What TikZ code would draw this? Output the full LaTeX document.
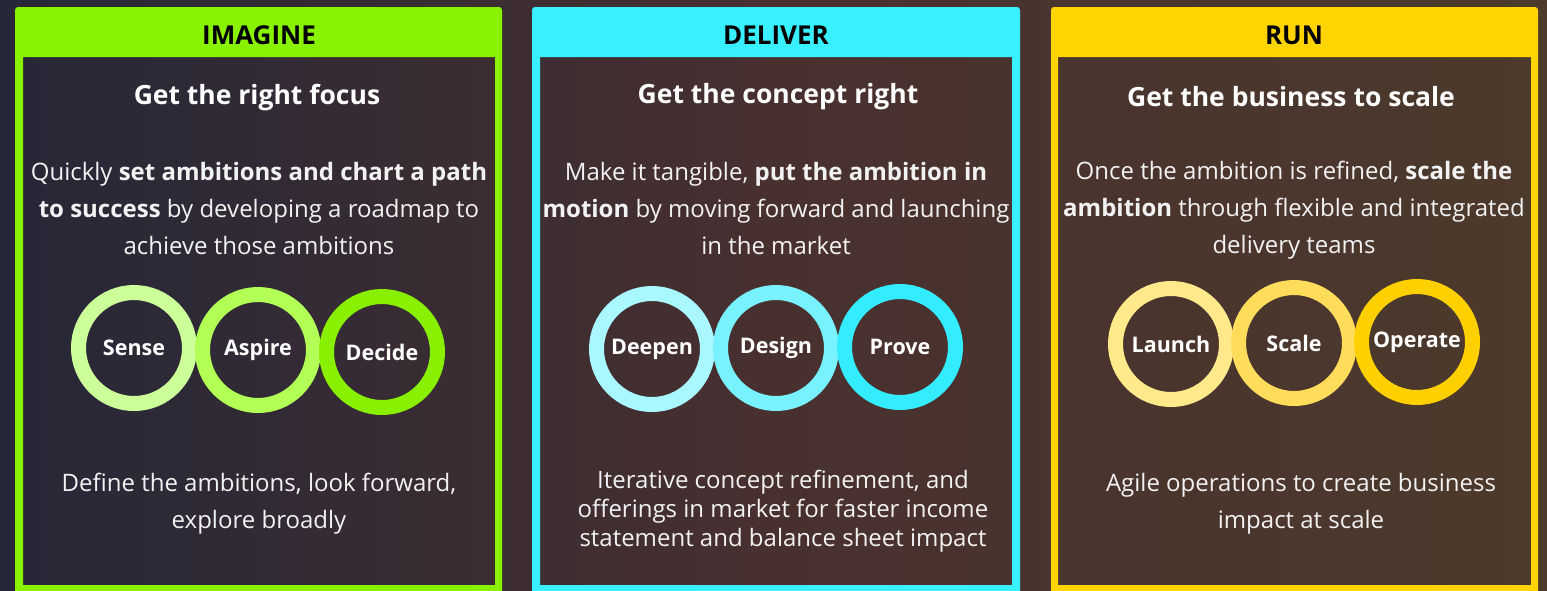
\documentclass[tikz,border=0pt]{standalone}
\usepackage{fontspec}
\setmainfont{Open Sans}
\usepackage{xcolor}

\definecolor{bgleft}{HTML}{262738}
\definecolor{bgmid}{HTML}{48302F}
\definecolor{bgright}{HTML}{4C3A2C}
\definecolor{imagine}{HTML}{88F200}
\definecolor{deliver}{HTML}{38F0FF}
\definecolor{runclr}{HTML}{FFD400}
\definecolor{sensec}{HTML}{CCFF99}
\definecolor{aspirec}{HTML}{B2FF55}
\definecolor{decidec}{HTML}{88F000}
\definecolor{deepenc}{HTML}{AAF8FF}
\definecolor{designc}{HTML}{78F2FF}
\definecolor{provec}{HTML}{34ECFF}
\definecolor{launchc}{HTML}{FFE98A}
\definecolor{scalec}{HTML}{FFDD5A}
\definecolor{operatec}{HTML}{FFD000}
\definecolor{txt}{HTML}{F2F2F2}

\tikzset{
  phase/.style={font=\fontsize{26}{26}\selectfont\bfseries, text=black},
  aim/.style={font=\fontsize{26.5}{26.5}\selectfont\bfseries, text=white},
  blurb/.style={font=\fontsize{24}{37}\selectfont, text=txt, align=center},
  ring/.style={circle, draw=#1, line width=15pt, minimum size=111pt,
    inner sep=0pt, font=\fontsize{21.5}{21.5}\selectfont\bfseries, text=white},
  frame/.style={fill=#1, even odd rule}
}

\begin{document}
\begin{tikzpicture}[x=1pt,y=-1pt]
        % Background
        \useasboundingbox (0,0) rectangle (1547,590);
        \shade[left color=bgleft, right color=bgright, middle color=bgmid] (0,0) rectangle (1547,590);

        % IMAGINE panel
        \fill[frame=imagine] [rounded corners=3pt] (15,7) rectangle (502,600) [sharp corners] (23,57) rectangle (495,585);
        \node[phase] (imagine) at (259,35) {IMAGINE};
        \node[aim] (focus) at (257,98) {Get the right focus};
        \node[blurb] (focustxt) at (259,208) {Quickly \textbf{set ambitions and chart a path}\\
          \textbf{to success} by developing a roadmap to\\ achieve those ambitions};
        \node[ring=sensec] (sense) at (134,348) {Sense};
        \node[ring=aspirec] (aspire) at (258,350) {Aspire};
        \node[ring=decidec] (decide) at (382,352) {Decide};
        \node[blurb] (focusend) at (259,504) {Define the ambitions, look forward,\\ explore broadly};

        % DELIVER panel
        \fill[frame=deliver] [rounded corners=3pt] (532,7) rectangle (1020,600) [sharp corners] (540,57) rectangle (1012,585);
        \node[phase] (deliver) at (776,35) {DELIVER};
        \node[aim] (concept) at (778,97) {Get the concept right};
        \node[blurb] (concepttxt) at (776,208) {Make it tangible, \textbf{put the ambition in}\\
          \textbf{motion} by moving forward and launching\\ in the market};
        \node[ring=deepenc] (deepen) at (652,349) {Deepen};
        \node[ring=designc] (design) at (776,348) {Design};
        \node[ring=provec] (prove) at (900,347) {Prove};
        \node[blurb, font=\fontsize{24}{29}\selectfont] (conceptend) at (783,511) {Iterative concept refinement, and\\
          offerings in market for faster income\\ statement and balance sheet impact};

        % RUN panel
        \fill[frame=runclr] [rounded corners=3pt] (1051,7) rectangle (1538,600) [sharp corners] (1058,57) rectangle (1531,585);
        \node[phase] (run) at (1294,35) {RUN};
        \node[aim] (business) at (1291,97) {Get the business to scale};
        \node[blurb] (businesstxt) at (1294,210) {Once the ambition is refined, \textbf{scale the}\\
          \textbf{ambition} through flexible and integrated\\ delivery teams};
        \node[ring=launchc] (launch) at (1171,344) {Launch};
        \node[ring=scalec] (scale) at (1294,343) {Scale};
        \node[ring=operatec] (operate) at (1417,342) {Operate};
        \node[blurb] (businessend) at (1301,504) {Agile operations to create business\\ impact at scale};
\end{tikzpicture}
\end{document}
